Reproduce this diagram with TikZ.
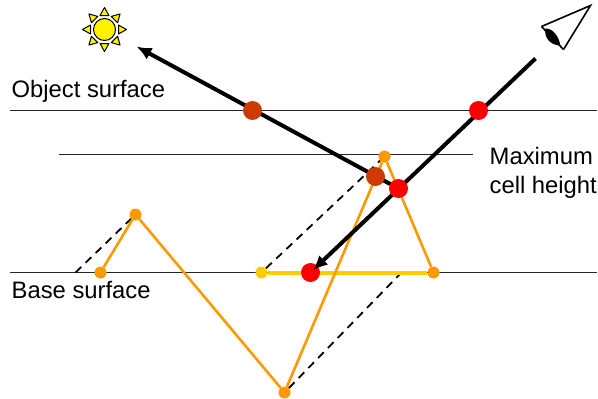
\documentclass[tikz,border=0pt]{standalone}
\usepackage{fontspec}
\setmainfont{Liberation Sans}
\usetikzlibrary{arrows.meta}

\begin{document}
\begin{tikzpicture}[
    x=1pt,
    y=-1pt,
    surface/.style={line width=1pt, black!85},
    ray/.style={-{Latex[length=15pt,width=13pt]}, line width=4pt, black},
    guide/.style={dash pattern=on 8pt off 6pt, line width=1.8pt, black},
    profile/.style={line width=2.6pt, orangeline},
    hit/.style={circle, fill=red, inner sep=0pt, minimum size=19pt},
    bounce/.style={circle, fill=brownhit, inner sep=0pt, minimum size=19pt},
    vertex/.style={circle, fill=orangeline, inner sep=0pt, minimum size=12pt},
    label/.style={inner sep=0pt, font=\fontsize{23.8}{28}\selectfont, align=left}
]
\definecolor{orangeline}{RGB}{255,153,0}
\definecolor{yellowline}{RGB}{255,204,0}
\definecolor{brownhit}{RGB}{204,60,0}
\useasboundingbox (-0.5,-0.5) rectangle (597.5,398.5);

\coordinate (objl) at (10,110);
\coordinate (objr) at (596,110);
\coordinate (maxl) at (58,154);
\coordinate (maxr) at (472,154);
\coordinate (basel) at (10,272);
\coordinate (baser) at (596,272);
\draw[surface] (objl) -- (objr);
\draw[surface] (maxl) -- (maxr);
\draw[surface] (basel) -- (baser);

\coordinate (d1) at (75,272);
\coordinate (d3) at (400,273);
\node[vertex] (v1) at (100,272) {};
\node[vertex] (v2) at (135,214) {};
\node[vertex] (v3) at (284,392) {};
\node[vertex] (v4) at (384,156) {};
\node[vertex] (v5) at (433,272) {};
\node[vertex, fill=yellowline] (v6) at (261,272) {};

\draw[guide] (d1) -- (v2);
\draw[guide] (v6) -- (v4);
\draw[guide] (v3) -- (d3);

\draw[profile] (v1) -- (v2);
\draw[profile] (v2) -- (v3);
\draw[profile] (v4) -- (v5);
\draw[line width=4pt, yellowline] (v6) -- (v5);
\draw[profile] (v3) -- (v4);

\coordinate (rayin) at (535,58);
\coordinate (rayturn) at (398,188);
\coordinate (rayout) at (136,46);
\node[hit] (h3) at (310,272) {};

\draw[ray, shorten >=3pt] (rayin) -- (h3.center);
\draw[ray] (rayturn) -- (rayout);
\node[hit] (h1) at (478,110) {};
\node[hit] (h2) at (rayturn) {};
\node[bounce] (b1) at (252,110) {};
\node[bounce] (b2) at (375,176) {};

% sun
\foreach \a in {0,45,...,315} {
    \draw[fill=yellow, line width=1pt, line join=round, shift={(104,29)}, rotate=\a]
        (14,-4.5) -- (22,0) -- (14,4.5) -- cycle;
}
\node[circle, draw=black, fill=yellow, line width=1pt, inner sep=0pt, minimum size=22pt] (sun) at (104,29) {};

% eye
\coordinate (e1) at (541,26);
\coordinate (e2) at (590,5);
\coordinate (e3) at (563,49);
\draw[line width=1.6pt] (e1) -- (e2) -- (e3);
\draw[line width=1.6pt] (e3) -- (e1);
\fill (545,28) .. controls (553,28) and (558,36) .. (560,45) .. controls (551,45) and (543,38) .. (545,28) -- cycle;

\node[label, anchor=base west] (objtext) at (11,97) {Object surface};
\node[label, anchor=base west] (maxtext) at (489,164) {Maximum};
\node[label, anchor=base west] (celltext) at (489,193) {cell height};
\node[label, anchor=base west] (basetext) at (11,298) {Base surface};
\end{tikzpicture}
\end{document}
